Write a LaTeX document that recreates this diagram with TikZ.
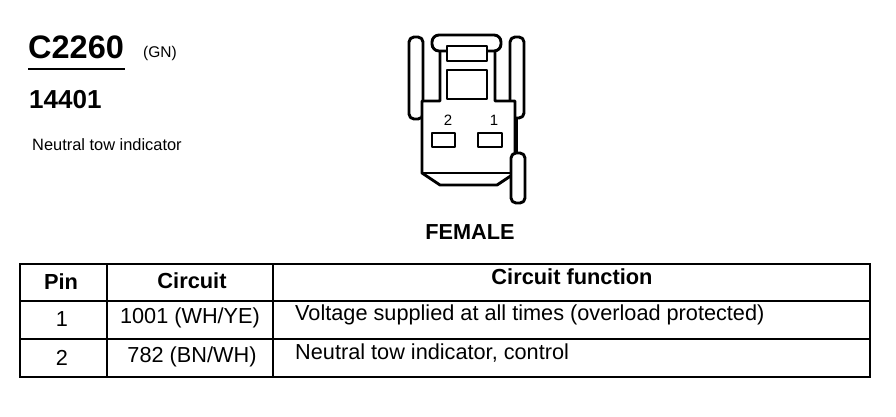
\documentclass[tikz,border=0pt]{standalone}
\usepackage{fontspec}
\setmainfont{Liberation Sans}
\tikzset{
    part/.style={line width=2.9pt, fill=white, line join=round},
    latch/.style={part, rounded corners=5pt},
    rule/.style={line width=2.2pt},
    lbl/.style={inner sep=0pt, anchor=center},
    cell/.style={lbl, font=\fontsize{21.7}{22}\selectfont},
    head/.style={lbl, font=\fontsize{21.8}{22}\selectfont\bfseries},
}
\begin{document}
\begin{tikzpicture}[x=1pt, y=-1pt]
    \useasboundingbox (0, 0) rectangle (896, 416);
    % titles
    \node[lbl, anchor=west, font=\fontsize{32.5}{33}\selectfont\bfseries] (conn) at (28, 47) {C2260};
    \node[lbl, anchor=west, font=\fontsize{15.5}{16}\selectfont] (color) at (143, 53) {(GN)};
    \draw[line width=1.8pt] (28, 69) -- (125, 69);
    \node[lbl, anchor=west, font=\fontsize{26}{26}\selectfont\bfseries] (part) at (29, 100) {14401};
    \node[lbl, anchor=west, font=\fontsize{16.4}{17}\selectfont] (desc) at (32, 145) {Neutral tow indicator};
    % connector
    \draw[latch] (409, 37) rectangle (423, 119);
    \draw[latch] (510, 37) rectangle (524, 118);
    \draw[part] (517, 118) -- (517, 153);
    \draw[part] (422, 101) -- (440, 101) -- (440, 50) -- (495, 50) -- (495, 101) -- (515, 101)
        -- (515, 173) -- (497, 185) -- (440, 185) -- (422, 173) -- cycle;
    \draw[part] (422, 173) -- (515, 173);
    \draw[latch, rounded corners=7pt] (432, 35) rectangle (501, 51);
    \draw[part] (447, 46) rectangle (487, 61);
    \draw[part] (447, 70) rectangle (487, 99);
    \draw[part] (432, 133) rectangle (455, 147);
    \draw[part] (478, 133) rectangle (502, 147);
    \draw[latch] (511, 153) rectangle (525, 203);
    \node[lbl, font=\fontsize{15}{15}\selectfont] (pintwo) at (448, 120) {2};
    \node[lbl, font=\fontsize{15}{15}\selectfont] (pinone) at (494, 120) {1};
    \node[lbl, font=\fontsize{21.7}{22}\selectfont\bfseries] (gender) at (470, 232) {FEMALE};
    % table
    \draw[line width=2.6pt] (20, 264) rectangle (870, 377);
    \draw[rule] (20, 301) -- (870, 301);
    \draw[rule] (20, 339) -- (870, 339);
    \draw[rule] (107, 264) -- (107, 377);
    \draw[rule] (273, 264) -- (273, 377);
    \node[head] (hpin) at (61, 282) {Pin};
    \node[head] (hcirc) at (192, 281) {Circuit};
    \node[head] (hfunc) at (572, 277) {Circuit function};
    \node[cell] (pina) at (62, 319) {1};
    \node[cell] (circa) at (190, 318) {1001 (WH/YE)};
    \node[cell, anchor=west] (funca) at (295, 315) {Voltage supplied at all times (overload protected)};
    \node[cell] (pinb) at (62, 358) {2};
    \node[cell] (circb) at (192, 357) {782 (BN/WH)};
    \node[cell, anchor=west] (funcb) at (295, 353) {Neutral tow indicator, control};
\end{tikzpicture}
\end{document}
